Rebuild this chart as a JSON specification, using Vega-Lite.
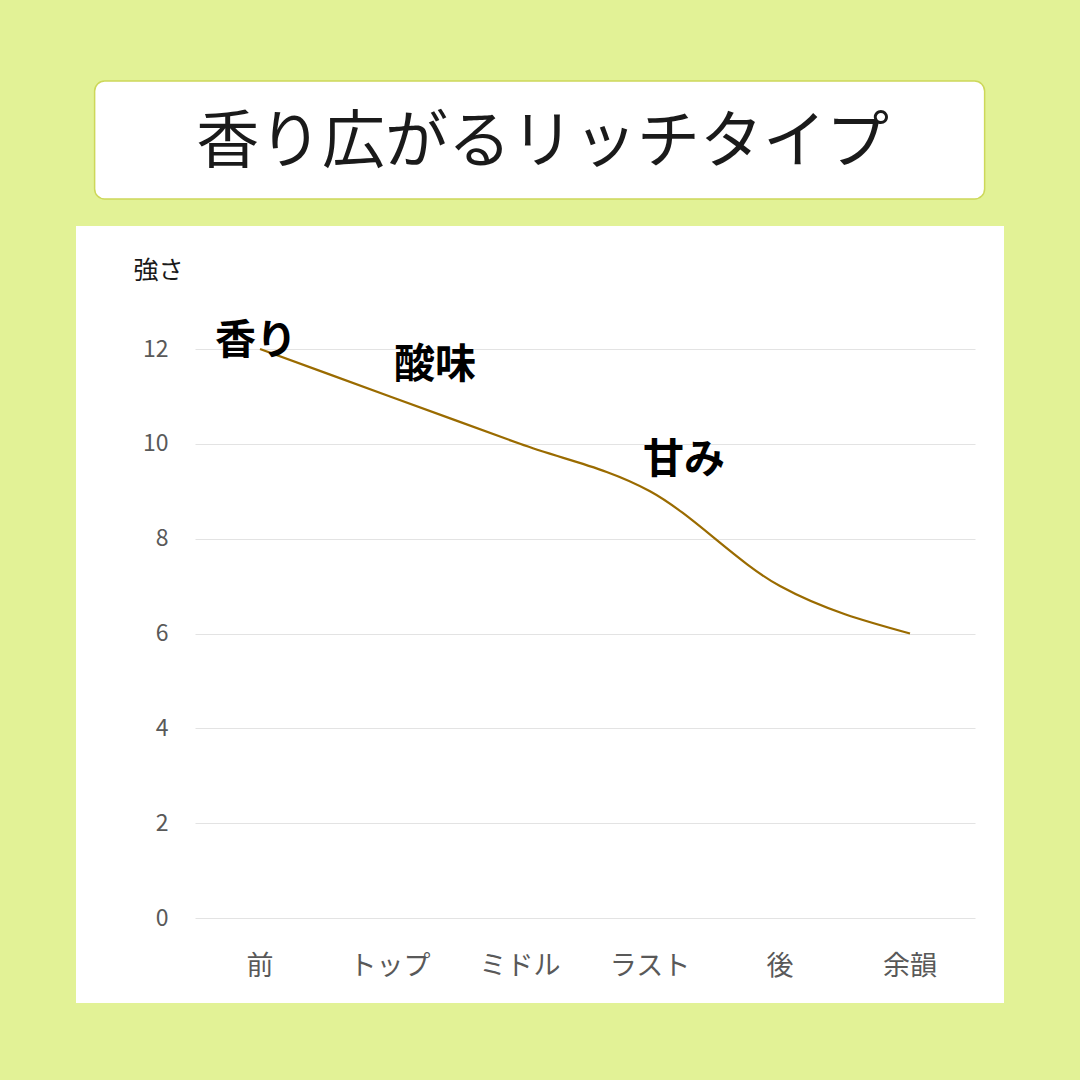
{
  "$schema": "https://vega.github.io/schema/vega-lite/v6.json",
  "background": "#e2f296",
  "padding": {"left": 76, "right": 76, "top": 80, "bottom": 77},
  "spacing": 26,
  "center": true,
  "datasets": {
    "notes": [
      {"stage": "前", "strength": 12, "note": "香り"},
      {"stage": "トップ", "strength": 11, "note": "酸味"},
      {"stage": "ミドル", "strength": 10, "note": ""},
      {"stage": "ラスト", "strength": 9, "note": "甘み"},
      {"stage": "後", "strength": 7, "note": ""},
      {"stage": "余韻", "strength": 6, "note": ""}
    ],
    "title": [{"text": "香り広がるリッチタイプ"}]
  },
  "vconcat": [
    {
      "width": 890,
      "height": 118,
      "data": {"name": "title"},
      "view": {"fill": "#ffffff", "stroke": "#cdd85a", "strokeWidth": 1.5, "cornerRadius": 10},
      "mark": {
        "type": "text",
        "font": "Noto Sans CJK JP",
        "fontSize": 63,
        "fontWeight": "normal",
        "color": "#1a1a1a",
        "align": "center",
        "baseline": "middle",
        "dx": 3,
        "dy": 3
      },
      "encoding": {"text": {"field": "text"}}
    },
    {
      "width": 928,
      "height": 777,
      "data": {"name": "notes"},
      "view": {"fill": "#ffffff", "stroke": null},
      "encoding": {
        "x": {
          "field": "stage",
          "type": "nominal",
          "sort": null,
          "scale": {"type": "band", "range": [119, 899], "paddingInner": 0, "paddingOuter": 0},
          "axis": {
            "title": null,
            "orient": "bottom",
            "offset": -60,
            "domain": false,
            "ticks": false,
            "labelPadding": 10,
            "labelAngle": 0,
            "labelFont": "Noto Sans CJK JP",
            "labelFontSize": 27,
            "labelColor": "#595959"
          }
        },
        "y": {
          "field": "strength",
          "type": "quantitative",
          "scale": {"domain": [0, 12], "range": [692, 123], "nice": false, "zero": true},
          "axis": {
            "values": [0, 2, 4, 6, 8, 10, 12],
            "offset": -100,
            "domain": false,
            "ticks": false,
            "labelPadding": 8,
            "labelFont": "Noto Sans CJK JP",
            "labelFontSize": 23,
            "labelColor": "#595959",
            "gridColor": "#e3e3e3",
            "gridWidth": 1.2,
            "title": "強さ",
            "titleFont": "Noto Sans CJK JP",
            "titleFontSize": 25,
            "titleFontWeight": "normal",
            "titleColor": "#1a1a1a",
            "titleAngle": 0,
            "titleAlign": "center",
            "titleBaseline": "middle",
            "titleX": -18,
            "titleY": 44
          }
        }
      },
      "layer": [
        {
          "mark": {"type": "line", "color": "#9a6b00", "strokeWidth": 2.2, "interpolate": "monotone"}
        },
        {
          "transform": [{"filter": "datum.stage === '前'"}],
          "mark": {"type": "text", "font": "Noto Sans CJK JP", "fontSize": 41, "fontWeight": "bold", "color": "#000000", "dx": -4, "dy": -7},
          "encoding": {"text": {"field": "note"}}
        },
        {
          "transform": [{"filter": "datum.stage === 'トップ'"}],
          "mark": {"type": "text", "font": "Noto Sans CJK JP", "fontSize": 41, "fontWeight": "bold", "color": "#000000", "dx": 45, "dy": -30},
          "encoding": {"text": {"field": "note"}}
        },
        {
          "transform": [{"filter": "datum.stage === 'ラスト'"}],
          "mark": {"type": "text", "font": "Noto Sans CJK JP", "fontSize": 41, "fontWeight": "bold", "color": "#000000", "dx": 34, "dy": -30},
          "encoding": {"text": {"field": "note"}}
        }
      ]
    }
  ]
}
